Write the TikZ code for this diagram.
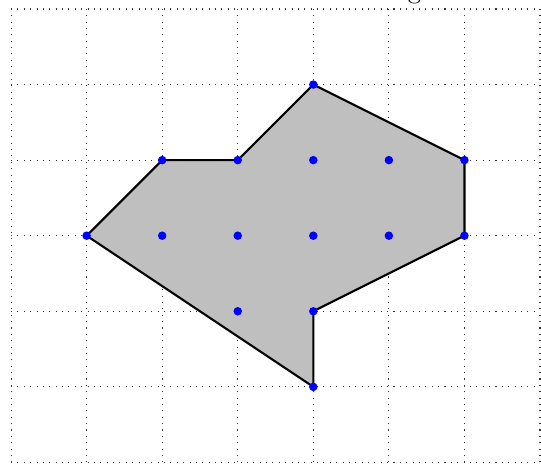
\documentclass[tikz,border=0pt]{standalone}
\begin{document}
\begin{tikzpicture}[
  gridline/.style={dotted, black!80, line width=0.4pt},
  poly/.style={fill=lightgray, draw=black, thick, line join=round},
  pt/.style={circle, fill=blue, inner sep=0pt, minimum size=3.2pt}
]
\useasboundingbox (-0.146,-0.026) rectangle (7.013,6.119);
\draw[gridline] (0,0) grid (7,6);
\coordinate (v1) at (1,3);
\coordinate (v2) at (2,4);
\coordinate (v3) at (3,4);
\coordinate (v4) at (4,5);
\coordinate (v5) at (6,4);
\coordinate (v6) at (6,3);
\coordinate (v7) at (4,2);
\coordinate (v8) at (4,1);
\draw[poly] (v1) -- (v2) -- (v3) -- (v4) -- (v5) -- (v6) -- (v7) -- (v8) -- cycle;
\foreach \c in {v1,v2,v3,v4,v5,v6,v7,v8} \node[pt] at (\c) {};
\foreach \p [count=\i] in {(4,4),(5,4),(2,3),(3,3),(4,3),(5,3),(3,2)}
  \node[pt] (i\i) at \p {};
\node[anchor=base, inner sep=0pt] (cut) at (5.338,{6cm+3.8pt}) {g};
\end{tikzpicture}
\end{document}
